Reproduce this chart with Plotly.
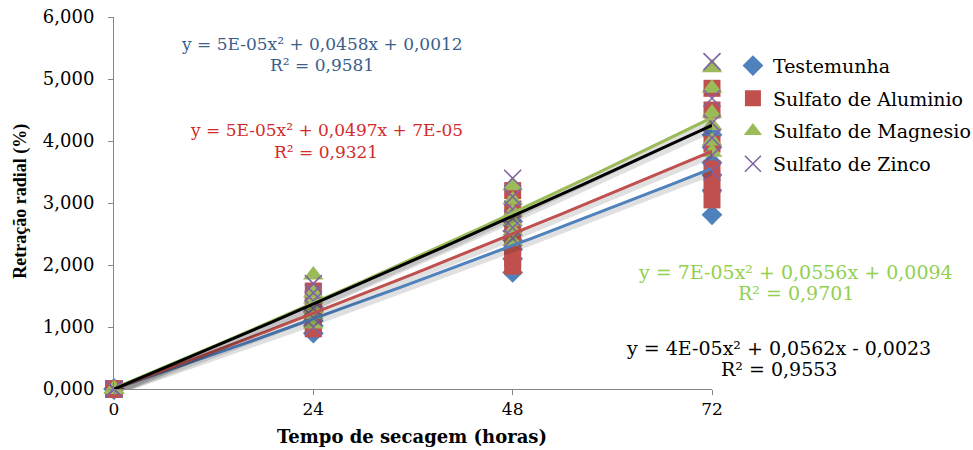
import numpy as np
import plotly.graph_objects as go

# ---- data ----
series_names = ["Testemunha", "Sulfato de Aluminio", "Sulfato de Magnesio", "Sulfato de Zinco"]
times = [0, 24, 48, 72]

testemunha_vals = [[0, 0, 0, 0, 0, 0],
                   [0.90, 1.02, 1.10, 1.18, 1.25, 1.32],
                   [1.88, 2.10, 2.25, 2.40, 2.55, 2.70],
                   [2.81, 3.20, 3.45, 3.65, 3.90, 4.10]]
aluminio_vals = [[0, 0, 0, 0, 0, 0],
                 [0.97, 1.05, 1.12, 1.25, 1.40, 1.58],
                 [1.98, 2.10, 2.30, 2.55, 2.90, 3.20],
                 [3.05, 3.30, 3.55, 3.95, 4.50, 4.85]]
magnesio_vals = [[0, 0, 0, 0, 0, 0],
                 [1.05, 1.20, 1.30, 1.45, 1.55, 1.84],
                 [2.38, 2.55, 2.70, 2.85, 3.05, 3.28],
                 [3.82, 4.00, 4.25, 4.45, 4.85, 5.18]]
zinco_vals = [[0, 0, 0, 0, 0, 0],
              [1.00, 1.15, 1.30, 1.42, 1.55, 1.70],
              [2.43, 2.60, 2.75, 2.90, 3.10, 3.40],
              [3.50, 3.77, 4.05, 4.29, 4.69, 5.28]]

trend_a = [5e-05, 5e-05, 7e-05, 4e-05]
trend_b = [0.0458, 0.0497, 0.0556, 0.0562]
trend_c = [0.0012, 0.00007, 0.0094, -0.0023]

eq_labels = ["y = 5E-05x² + 0,0458x + 0,0012",
             "y = 5E-05x² + 0,0497x + 7E-05",
             "y = 7E-05x² + 0,0556x + 0,0094",
             "y = 4E-05x² + 0,0562x - 0,0023"]
r2_labels = ["R² = 0,9581", "R² = 0,9321", "R² = 0,9701", "R² = 0,9553"]

y_tick_vals = [0, 1, 2, 3, 4, 5, 6]
y_tick_labels = ["0,000", "1,000", "2,000", "3,000", "4,000", "5,000", "6,000"]
x_tick_vals = [0, 24, 48, 72]
x_tick_labels = ["0", "24", "48", "72"]

x_title = "Tempo de secagem (horas)"
y_title = "Retração radial (%)"

# ---- styles ----
marker_colors = ["#4F81BD", "#C0504D", "#9BBB59", "#8064A2"]
marker_symbols = ["diamond", "square", "triangle-up", "x-thin"]
marker_sizes = [16, 17, 18, 17]
line_colors = ["#4F81BD", "#C0504D", "#9BBB59", "#000000"]
text_colors = ["#3B5E8C", "#D42A2A", "#92D050", "#000000"]
label_pos = [(0.348, 0.927, 0.871, 17), (0.355, 0.696, 0.637, 17),
             (1.140, 0.315, 0.258, 19), (1.112, 0.111, 0.054, 19)]

SERIF = "DejaVu Serif"
all_vals = [testemunha_vals, aluminio_vals, magnesio_vals, zinco_vals]

fig = go.Figure()

for i, name in enumerate(series_names):
    xs, ys = [], []
    for t, reps in zip(times, all_vals[i]):
        xs += [t] * len(reps)
        ys += reps
    if marker_symbols[i] == "x-thin":
        mk = dict(symbol="x-thin", size=marker_sizes[i],
                  line=dict(color=marker_colors[i], width=1.6), color=marker_colors[i])
    else:
        mk = dict(symbol=marker_symbols[i], size=marker_sizes[i], color=marker_colors[i],
                  line=dict(width=0))
    fig.add_trace(go.Scatter(x=xs, y=ys, mode="markers", name=name, marker=mk,
                             cliponaxis=False, legendgroup=name))

xx = np.linspace(0, 72, 80)
for i in range(4):
    yy = trend_a[i] * xx ** 2 + trend_b[i] * xx + trend_c[i]
    fig.add_trace(go.Scatter(x=xx + 0.5, y=yy - 0.04, mode="lines", showlegend=False,
                             line=dict(color="rgba(0,0,0,0.12)", width=6), hoverinfo="skip"))
    fig.add_trace(go.Scatter(x=xx, y=yy, mode="lines", showlegend=False,
                             line=dict(color=line_colors[i], width=3), hoverinfo="skip"))

for i in range(4):
    px, py1, py2, fs = label_pos[i]
    fig.add_annotation(x=px, y=py1, xref="paper", yref="paper", text=eq_labels[i],
                       showarrow=False, xanchor="center", yanchor="middle",
                       font=dict(family=SERIF, size=fs, color=text_colors[i]))
    fig.add_annotation(x=px, y=py2, xref="paper", yref="paper", text=r2_labels[i],
                       showarrow=False, xanchor="center", yanchor="middle",
                       font=dict(family=SERIF, size=fs, color=text_colors[i]))

fig.add_annotation(x=0.498, y=-0.129, xref="paper", yref="paper", text="<b>" + x_title + "</b>",
                   showarrow=False, xanchor="center", yanchor="middle",
                   font=dict(family=SERIF, size=18, color="#000000"))
fig.add_annotation(x=-0.157, y=0.504, xref="paper", yref="paper", text="<b>" + y_title + "</b>",
                   showarrow=False, xanchor="center", yanchor="middle", textangle=-90,
                   font=dict(family="Liberation Serif", size=18, color="#000000"))

fig.update_layout(
    width=973, height=450,
    margin=dict(l=114, r=261, t=17, b=61, autoexpand=False),
    paper_bgcolor="white", plot_bgcolor="white",
    showlegend=True,
    legend=dict(x=1.035, y=0.92, xanchor="left", yanchor="top",
                font=dict(family=SERIF, size=19, color="#000000"),
                tracegroupgap=5, bgcolor="rgba(0,0,0,0)"),
    xaxis=dict(range=[0, 72], tickvals=x_tick_vals, ticktext=x_tick_labels,
               showgrid=False, zeroline=False, showline=True, linecolor="#868686",
               linewidth=1, ticks="outside", ticklen=5, tickcolor="#868686",
               automargin=False,
               tickfont=dict(family=SERIF, size=17, color="#000000")),
    yaxis=dict(range=[0, 6], tickvals=y_tick_vals, ticktext=y_tick_labels,
               showgrid=False, zeroline=False, showline=True, linecolor="#868686",
               linewidth=1, ticks="outside", ticklen=5, tickcolor="#868686",
               automargin=False, ticklabelstandoff=10,
               tickfont=dict(family=SERIF, size=18, color="#000000")),
)

fig.write_html("out.html", config={"displayModeBar": False},
               post_script="document.body.style.margin='0';document.body.style.overflow='hidden';")
